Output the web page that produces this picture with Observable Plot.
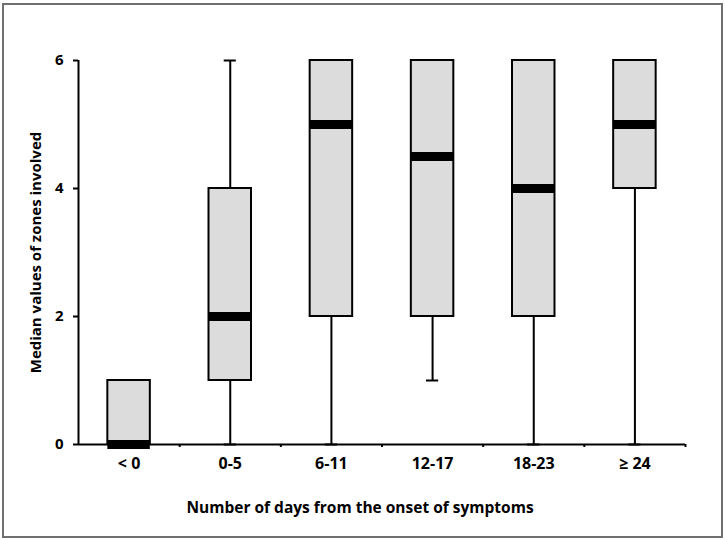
<!DOCTYPE html>
<html><head><meta charset="utf-8">
<script src="https://cdn.jsdelivr.net/npm/d3@7"></script>
<script src="https://cdn.jsdelivr.net/npm/@observablehq/plot@0.6"></script>
<style>
body{margin:0;background:#fff}
#wrap{position:relative;width:725px;height:540px}
#border{position:absolute;left:2px;top:3px;width:717px;height:531px;border:2px solid #707070;pointer-events:none}
</style>
</head><body><div id="wrap"><div id="border"></div></div>
<script>
const categories = ["< 0", "0-5", "6-11", "12-17", "18-23", "≥ 24"];
const mins    = [0, 0, 0, 1, 0, 0];
const q1s     = [0, 1, 2, 2, 2, 4];
const medians = [0, 2, 5, 4.5, 4, 5];
const q3s     = [1, 4, 6, 6, 6, 6];
const maxs    = [1, 6, 6, 6, 6, 6];
const yTicks = [0, 2, 4, 6];
const yLabel = "Median values of zones involved";
const xLabel = "Number of days from the onset of symptoms";

const data = categories.map((c, i) => ({cat: c, pos: i + 0.5, min: mins[i], q1: q1s[i], med: medians[i], q3: q3s[i], max: maxs[i]}));
const boxHalf = 0.21, capHalf = 0.06;

const chart = Plot.plot({
  width: 725, height: 540,
  marginLeft: 78, marginRight: 40, marginTop: 60, marginBottom: 96,
  style: {fontFamily: "'Open Sans', sans-serif", fontWeight: "bold", fontSize: "15.5px", color: "#000", background: "transparent"},
  x: {domain: [0, categories.length]},
  y: {domain: [0, 6]},
  marks: [
    Plot.ruleX(data, {x: "pos", y1: "min", y2: "max", stroke: "#000", strokeWidth: 2}),
    Plot.ruleY(data, {x1: d => d.pos - capHalf, x2: d => d.pos + capHalf, y: "max", stroke: "#000", strokeWidth: 2}),
    Plot.ruleY(data, {x1: d => d.pos - capHalf, x2: d => d.pos + capHalf, y: "min", stroke: "#000", strokeWidth: 2}),
    Plot.rectY(data, {x1: d => d.pos - boxHalf, x2: d => d.pos + boxHalf, y1: "q1", y2: "q3", fill: "#dcdcdc", stroke: "#000", strokeWidth: 2}),
    Plot.ruleY(data, {x1: d => d.pos - boxHalf, x2: d => d.pos + boxHalf, y: "med", stroke: "#000", strokeWidth: 9}),
    Plot.ruleY([0], {stroke: "#000", strokeWidth: 2}),
    Plot.ruleX([0], {stroke: "#000", strokeWidth: 2}),
    Plot.axisY({ticks: yTicks, tickSize: 5, tickPadding: 10, strokeWidth: 2, tickFormat: d => String(d), fontSize: 15, label: yLabel, labelAnchor: "center", labelOffset: 48, labelArrow: "none"}),
    Plot.axisX({ticks: data.map(d => d.pos), tickSize: 0, tickPadding: 13, fontSize: 16, tickFormat: d => categories[Math.floor(d)], label: null}),
    Plot.axisX({ticks: d3.range(1, categories.length + 1), tickSize: 3, strokeWidth: 2, tickFormat: () => "", label: null}),
    Plot.text([xLabel], {frameAnchor: "bottom", dy: 68, dx: -22, text: d => d, fontSize: 15.5, fontWeight: "bold"})
  ]
});
document.getElementById("wrap").prepend(chart);
chart.style.position = "absolute"; chart.style.left = "0"; chart.style.top = "0";
</script>
</body></html>
